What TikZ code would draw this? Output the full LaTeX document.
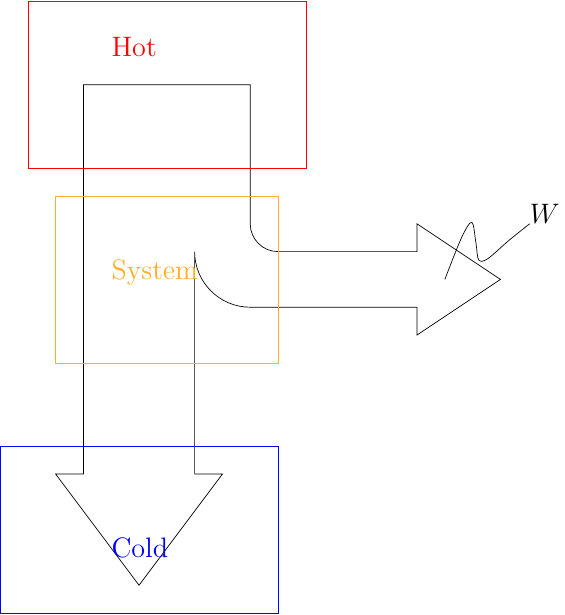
\documentclass[tikz,border=0pt]{standalone}
\usepackage{tikz}
\usetikzlibrary{positioning}
\definecolor{sysorange}{RGB}{255,175,40}
\tikzset{
  reservoir/.style={draw, line width=0.3pt},
  label text/.style={anchor=base west, inner sep=0pt, font=\Large},
}

\begin{document}
\begin{tikzpicture}[x=0.5cm, y=0.5cm, line width=0.35pt]
    \useasboundingbox (0,-0.07) rectangle (20.32,22.05);
    % flow arrow
    \draw (3,5) -- (3,19) -- (9,19) -- (9,14)
        arc[start angle=180, end angle=270, radius=1] -- (15,13) -- (15,14)
        -- (18,12) -- (15,10) -- (15,11) -- (9,11)
        arc[start angle=270, end angle=180, radius=2] -- (7,5) -- (8,5)
        -- (5,1) -- (2,5) -- cycle;
    % reservoirs
    \draw[reservoir, red] (1,16) rectangle (11,22);
    \draw[reservoir, sysorange] (2,9) rectangle (10,15);
    \draw[reservoir, blue] (0,0) rectangle (10,6);
    \node[label text, red] (hot) at (4,20) {Hot};
    \node[label text, sysorange] (system) at (4,12) {System};
    \node[label text, blue] (cold) at (4,2) {Cold};
    % work
    \coordinate (wstart) at (16,12);
    \node[label text] (work) at (19.05,14) {$W$};
    \draw plot[smooth, tension=0.55] coordinates {(wstart) (16.6,13.5) (16.97,14.05)
        (17.12,13.3) (17.22,12.7) (17.55,12.75) (18.3,13.4) (work.base west)};
\end{tikzpicture}
\end{document}
